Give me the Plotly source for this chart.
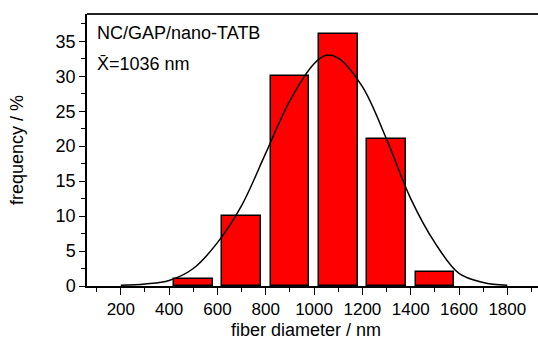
import plotly.graph_objects as go

# Histogram of fiber diameters (bin centres in nm, frequency in %)
bin_centers = [500, 700, 900, 1100, 1300, 1500]
frequency = [1, 10, 30, 36, 21, 2]
bar_width = 160

# Gaussian fit curve, sampled along the diameter axis
fit_x = [200, 300, 400, 500, 600, 700, 800, 900, 1000, 1050, 1100,
         1200, 1300, 1400, 1500, 1600, 1700, 1800]
fit_y = [0.1, 0.3, 0.8, 2.5, 6.2, 11.5, 19.0, 26.5, 31.8, 33.0, 32.6,
         28.5, 21.0, 12.5, 6.2, 1.8, 0.5, 0.1]

sample_name = "NC/GAP/nano-TATB"
mean_label = "X\u0304=1036 nm"
x_title = "fiber diameter / nm"
y_title = "frequency / %"

FONT = "Liberation Sans, Arial, sans-serif"

fig = go.Figure()
fig.add_trace(go.Bar(
    x=bin_centers, y=frequency, width=bar_width,
    marker=dict(color="#ff0000", line=dict(color="black", width=1.5)),
    showlegend=False,
))
fig.add_trace(go.Scatter(
    x=fit_x, y=fit_y, mode="lines", line_shape="spline",
    line=dict(color="black", width=1.5), showlegend=False,
))

fig.update_layout(
    width=538, height=340,
    margin=dict(l=87, r=0, t=14, b=54),
    paper_bgcolor="white", plot_bgcolor="white",
    font=dict(family=FONT, size=18, color="black"),
    bargap=0,
)

fig.update_xaxes(
    range=[60, 1927], showgrid=False, zeroline=False,
    showline=True, linecolor="black", linewidth=1.5,
    ticks="outside", ticklen=7, tickwidth=1.2, tickcolor="black",
    tick0=0, dtick=200,
    tickfont=dict(family=FONT, size=17),
    minor=dict(ticks="outside", ticklen=4, tickwidth=1.2,
               tickcolor="black", dtick=100, tick0=0),
)
fig.update_yaxes(
    range=[0, 38.9], showgrid=False, zeroline=False,
    showline=True, linecolor="black", linewidth=1.5,
    ticks="outside", ticklen=6, tickwidth=1.2, tickcolor="black",
    tick0=0, dtick=5,
    tickfont=dict(family=FONT, size=18),
    minor=dict(ticks="outside", ticklen=4, tickwidth=1.2,
               tickcolor="black", dtick=2.5, tick0=0),
)

# frame line along the top of the plotting area
fig.add_shape(type="line", xref="paper", yref="paper",
              x0=0, x1=1, y0=1, y1=1,
              line=dict(color="#222222", width=2))

def py(pix):
    # pixel row -> paper fraction of the plotting area
    return (286 - pix) / 272.0

def px(pix):
    return (pix - 87) / 451.0

fig.add_annotation(text=sample_name, xref="paper", yref="paper",
                   x=px(95), y=py(33), xanchor="left", yanchor="middle",
                   showarrow=False, font=dict(size=18))
fig.add_annotation(text=mean_label, xref="paper", yref="paper",
                   x=px(95), y=py(64), xanchor="left", yanchor="middle",
                   showarrow=False, font=dict(size=18))
fig.add_annotation(text=x_title, xref="paper", yref="paper",
                   x=px(305.5), y=py(330), xanchor="center", yanchor="middle",
                   showarrow=False, font=dict(size=18))
fig.add_annotation(text=y_title, xref="paper", yref="paper",
                   x=px(17), y=py(150), xanchor="center", yanchor="middle",
                   textangle=-90, showarrow=False, font=dict(size=18))

fig.write_html("out.html")
